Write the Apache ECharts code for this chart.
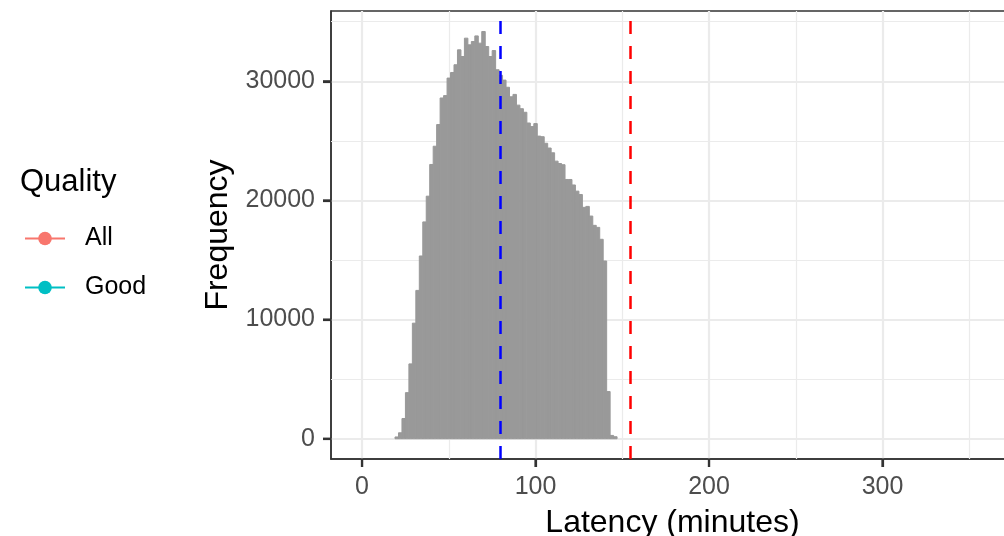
<!DOCTYPE html>
<html>
<head>
<meta charset="utf-8">
<title>Latency histogram</title>
<script src="https://cdn.jsdelivr.net/npm/echarts@6/dist/echarts.min.js"></script>
<style>
  html, body { margin: 0; padding: 0; background: #fff; }
  #hist { width: 1004px; height: 536px; }
</style>
</head>
<body>
<div id="hist"></div>
<script>
// histogram bins (centre of each 2-minute bin) and counts
var binWidth = 2;
var binCenters = [20, 22, 24, 26, 28, 30, 32, 34, 36, 38, 40, 42, 44, 46, 48, 50,
  52, 54, 56, 58, 60, 62, 64, 66, 68, 70, 72, 74, 76, 78, 80, 82,
  84, 86, 88, 90, 92, 94, 96, 98, 100, 102, 104, 106, 108, 110, 112, 114,
  116, 118, 120, 122, 124, 126, 128, 130, 132, 134, 136, 138, 140, 142, 144, 146];
var counts = [150, 500, 1700, 3870, 6280, 9700, 12450, 15340, 18200, 20360, 23020, 24550, 26370, 28600, 28800, 30270,
  30740, 31390, 32640, 32080, 33620, 33060, 33340, 33810, 33200, 34180, 32920, 32080, 32580, 30970, 30500, 30100,
  29500, 28700, 28900, 28000, 27700, 27400, 26500, 26200, 26450, 25400, 25350, 24800, 24400, 24000, 23300, 23100,
  23000, 21760, 21760, 21300, 20780, 20500, 19420, 19500, 18690, 17910, 17740, 16740, 14920, 3960, 280, 170];

// reference lines
var goodMean = 79.8;
var allMean = 154.5;

// axes
var xMajor = [0, 100, 200, 300];
var xMinor = [50, 150, 250, 350];
var yMajor = [0, 10000, 20000, 30000];
var yMinor = [5000, 15000, 25000, 35000];
var xRange = [-17.9, 375.8];
var yRange = [-1700, 35900];

var legendNames = ['All', 'Good'];
var legendColors = ['#F8766D', '#00BFC4'];

var histData = binCenters.map(function (c, i) { return [c, counts[i]]; });

// minor grid lines go in as mark lines under the bars
var minorGrid = xMinor.map(function (v) { return { xAxis: v }; })
  .concat(yMinor.map(function (v) { return { yAxis: v }; }));

var chart = echarts.init(document.getElementById('hist'));

var labelStyle = { color: '#4D4D4D', fontSize: 25, fontFamily: 'Liberation Sans' };

var option = {
  animation: false,
  textStyle: { fontFamily: 'Liberation Sans' },
  title: {
    text: 'Quality',
    left: 20,
    top: 167,
    padding: 0,
    textStyle: { fontSize: 31, fontWeight: 'normal', color: '#000000' }
  },
  legend: {
    data: legendNames,
    orient: 'vertical',
    left: 24,
    top: 226,
    padding: 0,
    itemWidth: 40,
    itemHeight: 17,
    itemGap: 24,
    textStyle: { fontSize: 25, color: '#000000', padding: [0, 0, 0, 15] }
  },
  grid: {
    left: 331,
    top: 11,
    width: 683,
    height: 448,
    outerBoundsMode: 'none',
    show: true,
    borderColor: '#333333',
    borderWidth: 1.5
  },
  xAxis: {
    type: 'value',
    min: xRange[0],
    max: xRange[1],
    name: 'Latency (minutes)',
    nameLocation: 'middle',
    nameGap: 48,
    nameTextStyle: { fontSize: 32, color: '#000000' },
    axisLine: { show: true, onZero: false, lineStyle: { color: '#333333', width: 1.5 } },
    axisTick: { show: true, customValues: xMajor, length: 8, lineStyle: { color: '#333333', width: 2.2 } },
    axisLabel: Object.assign({ customValues: xMajor, margin: 16 }, labelStyle),
    splitLine: { show: true, lineStyle: { color: '#EBEBEB', width: 2.2 } }
  },
  yAxis: {
    type: 'value',
    min: yRange[0],
    max: yRange[1],
    name: 'Frequency',
    nameLocation: 'middle',
    nameGap: 92,
    nameTextStyle: { fontSize: 32, color: '#000000' },
    axisLine: { show: true, onZero: false, lineStyle: { color: '#333333', width: 1.5 } },
    axisTick: { show: true, customValues: yMajor, length: 8, lineStyle: { color: '#333333', width: 2.2 } },
    axisLabel: Object.assign({
      customValues: yMajor,
      margin: 16,
      formatter: function (v) { return String(v); }
    }, labelStyle),
    splitLine: { show: true, lineStyle: { color: '#EBEBEB', width: 2.2 } }
  },
  series: [{
    name: 'minor grid',
    type: 'line',
    data: [],
    z: 1,
    markLine: {
      silent: true,
      z: 1,
      symbol: ['none', 'none'],
      label: { show: false },
      lineStyle: { color: '#EBEBEB', width: 1.2, type: 'solid' },
      data: minorGrid
    }
  }, {
    name: 'Latency',
    type: 'custom',
    z: 2,
    data: histData,
    renderItem: function (params, api) {
      var c = api.value(0);
      var n = api.value(1);
      var top = api.coord([c - binWidth / 2, n]);
      var bottom = api.coord([c + binWidth / 2, 0]);
      return {
        type: 'rect',
        shape: { x: top[0], y: top[1], width: bottom[0] - top[0], height: bottom[1] - top[1] },
        style: { fill: '#999999', stroke: '#999999', lineWidth: 1 }
      };
    }
  }, {
    name: 'means',
    type: 'line',
    data: [],
    z: 3,
    markLine: {
      silent: true,
      z: 6,
      symbol: ['none', 'none'],
      label: { show: false },
      lineStyle: { type: [13, 12], width: 2.5 },
      data: [
        { xAxis: goodMean, lineStyle: { color: '#0000FF' } },
        { xAxis: allMean, lineStyle: { color: '#FF0000' } }
      ]
    }
  }, {
    name: legendNames[0],
    type: 'line',
    data: [],
    symbol: 'circle',
    itemStyle: { color: legendColors[0] },
    lineStyle: { color: legendColors[0], width: 3 }
  }, {
    name: legendNames[1],
    type: 'line',
    data: [],
    symbol: 'circle',
    itemStyle: { color: legendColors[1] },
    lineStyle: { color: legendColors[1], width: 3 }
  }]
};

chart.setOption(option);

// outward tick marks, placed through the axes' own scales
var tickLen = 8;
var xEdge = chart.convertToPixel({ gridIndex: 0 }, [xRange[0], yRange[0]]);
var ticks = [];
xMajor.forEach(function (v) {
  var p = chart.convertToPixel({ gridIndex: 0 }, [v, yRange[0]]);
  ticks.push({
    type: 'line', silent: true, z: 100,
    shape: { x1: p[0], y1: p[1], x2: p[0], y2: p[1] + tickLen },
    style: { stroke: '#333333', lineWidth: 2.2 }
  });
});
yMajor.forEach(function (v) {
  var p = chart.convertToPixel({ gridIndex: 0 }, [xRange[0], v]);
  ticks.push({
    type: 'line', silent: true, z: 100,
    shape: { x1: p[0] - tickLen, y1: p[1], x2: p[0], y2: p[1] },
    style: { stroke: '#333333', lineWidth: 2.2 }
  });
});
chart.setOption({ graphic: { elements: ticks } });
</script>
</body>
</html>
